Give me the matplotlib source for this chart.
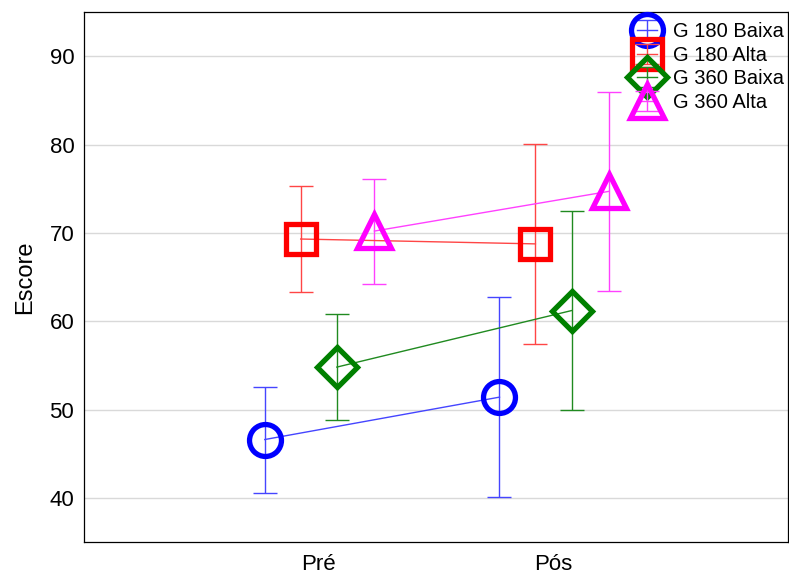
import matplotlib
matplotlib.use("Agg")
import matplotlib.pyplot as plt
import numpy as np

plt.rcParams['font.family'] = ['Liberation Sans', 'DejaVu Sans']

categories = ["Pré", "Pós"]
series = ["G 180 Baixa", "G 180 Alta", "G 360 Baixa", "G 360 Alta"]
means = {
    "G 180 Baixa": [46.6, 51.4],
    "G 180 Alta": [69.3, 68.75],
    "G 360 Baixa": [54.8, 61.2],
    "G 360 Alta": [70.2, 74.7],
}
errors = {
    "G 180 Baixa": [6.0, 11.3],
    "G 180 Alta": [6.0, 11.35],
    "G 360 Baixa": [6.0, 11.3],
    "G 360 Alta": [5.95, 11.3],
}
colors = ["#0000ff", "#ff0000", "#008000", "#ff00ff"]
line_colors = ["#4545ff", "#ff4545", "#208a20", "#ff40ff"]
markers = ["o", "s", "D", "^"]
marker_sizes = [23, 22, 20, 25]
offsets = [-0.23, -0.077, 0.077, 0.237]

fig = plt.figure(figsize=(7.89, 5.75), dpi=100)
ax = fig.add_axes([0.1065, 0.0574, 0.8925, 0.9217])

x = np.arange(len(categories))
for name, c, lc, m, ms, off in zip(series, colors, line_colors, markers,
                                   marker_sizes, offsets):
    line, caps, bars = ax.errorbar(x + off, means[name], yerr=errors[name],
                                   color=lc, ecolor=lc, lw=1.0, elinewidth=1.0,
                                   capsize=8.5, marker=m, ms=ms, mfc="none",
                                   mec=c, mew=3.8, label=name)
    for cap in caps:
        cap.set_markeredgewidth(1.0)
        cap.set_markeredgecolor(lc)
        cap.set_color(lc)

ax.set_xlim(-1, 2)
ax.set_ylim(35, 95)
ax.set_xticks(x)
ax.set_xticklabels(categories)
ax.set_yticks([40, 50, 60, 70, 80, 90])
ax.tick_params(length=0, labelsize=16, pad=7)
ax.tick_params(axis="x", pad=9)
ax.set_ylabel("Escore", fontsize=17, labelpad=10)
ax.yaxis.grid(True, color="#d9d9d9", lw=1)
ax.set_axisbelow(True)
for s in ax.spines.values():
    s.set_color("black")
    s.set_linewidth(0.9)

leg = ax.legend(loc="upper right", frameon=False, fontsize=14.5,
                labelspacing=0.22, handlelength=1.0, handletextpad=0.8,
                borderpad=0.2, borderaxespad=0.0, bbox_to_anchor=(1.0, 0.988))

fig.savefig("out.png", dpi=100)
